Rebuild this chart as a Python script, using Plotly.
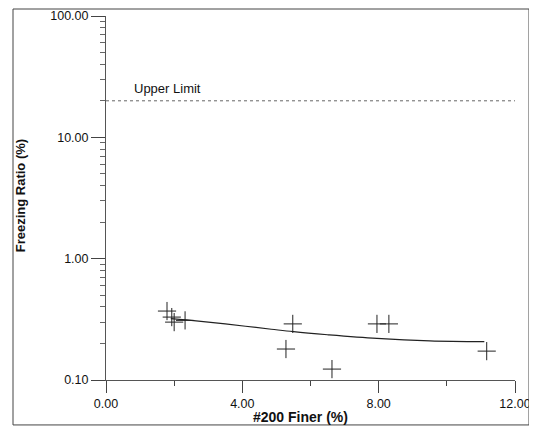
import plotly.graph_objects as go

# Data
finer = [1.79, 1.93, 2.00, 2.32, 5.28, 5.48, 6.63, 7.95, 8.30, 11.17]
ratio = [0.37, 0.33, 0.30, 0.31, 0.18, 0.29, 0.123, 0.29, 0.29, 0.173]

trend_x = [1.9, 2.5, 3.5, 4.85, 5.5, 6.5, 7.95, 9.5, 11.1]
trend_y = [0.32, 0.31, 0.29, 0.262, 0.25, 0.236, 0.22, 0.21, 0.207]

limit_x = [0, 12]
limit_y = [20, 20]

x_ticks = [0, 4, 8, 12]
x_tick_labels = ["0.00", "4.00", "8.00", "12.00"]
x_minor = [2, 6, 10]
y_ticks = [0.1, 1, 10, 100]
y_tick_labels = ["0.10", "1.00", "10.00", "100.00"]
y_minor = [m * d for d in (0.1, 1, 10) for m in range(2, 10)]

# page has an 8px body margin
OFF = 8
W, H = 537 - OFF, 427 - OFF
# plot area in page pixels
PL, PR, PT, PB = 106, 515, 15.5, 380
L, R, T, B = PL - OFF, W - (PR - OFF), PT - OFF, H - (PB - OFF)
PW, PH = PR - PL, PB - PT


def px(xp):
    return (xp - PL) / PW


def py(yp):
    return (PB - yp) / PH


fig = go.Figure()
fig.add_trace(go.Scatter(x=limit_x, y=limit_y, mode="lines",
                         line=dict(color="#666", width=1, dash="dot"),
                         showlegend=False, hoverinfo="skip"))
fig.add_trace(go.Scatter(x=trend_x, y=trend_y, mode="lines",
                         line=dict(color="#222", width=1.2, shape="spline"),
                         showlegend=False))
fig.add_trace(go.Scatter(x=finer, y=ratio, mode="markers",
                         marker=dict(symbol="cross-thin", size=13,
                                     line=dict(color="#222", width=1)),
                         showlegend=False, cliponaxis=False))

font = "Liberation Sans, Arial, sans-serif"
fig.update_layout(
    width=W, height=H,
    margin=dict(l=L, r=R, t=T, b=B, autoexpand=False),
    paper_bgcolor="white", plot_bgcolor="white",
    font=dict(family=font, size=12.5, color="#111"),
    xaxis=dict(range=[0, 12], tickmode="array", tickvals=x_ticks,
               ticktext=x_tick_labels, ticks="outside", ticklen=12,
               tickcolor="#444", showline=True, linecolor="#555",
               linewidth=1, showgrid=False, zeroline=False,
               ticklabeloverflow="allow",
               minor=dict(tickmode="array", tickvals=x_minor,
                          ticks="outside", ticklen=5, tickcolor="#444")),
    yaxis=dict(type="log", range=[-1, 2], tickmode="array",
               tickvals=y_ticks, ticktext=y_tick_labels,
               ticks="outside", ticklen=14, tickcolor="#444",
               showline=True, linecolor="#555", linewidth=1,
               showgrid=False, zeroline=False,
               ticklabeloverflow="allow",
               minor=dict(tickmode="array", tickvals=y_minor,
                          ticks="outside", ticklen=5, tickcolor="#666")),
    shapes=[dict(type="rect", xref="paper", yref="paper",
                 x0=px(13), x1=px(529), y0=py(425), y1=py(OFF + 0.5),
                 line=dict(color="#444", width=1))],
    annotations=[
        dict(text="Upper Limit", x=0.77, y=1.4, xref="x", yref="y",
             showarrow=False, xanchor="left", yanchor="middle",
             font=dict(size=13, family=font, color="#111")),
        dict(text="<b>#200 Finer (%)</b>", xref="paper", yref="paper",
             x=px(300), y=py(417), showarrow=False,
             xanchor="center", yanchor="middle",
             font=dict(size=14, family=font, color="#111")),
        dict(text="<b>Freezing Ratio (%)</b>", xref="paper", yref="paper",
             x=px(20), y=py(196), showarrow=False, textangle=-90,
             xanchor="center", yanchor="middle",
             font=dict(size=13, family=font, color="#111")),
    ],
)

fig.write_html("out.html")
